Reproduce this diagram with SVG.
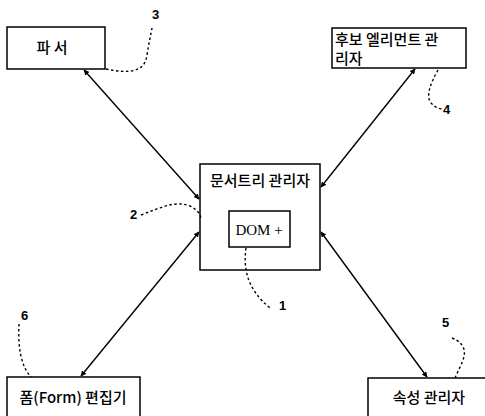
<svg xmlns="http://www.w3.org/2000/svg" width="485" height="416" viewBox="0 0 485 416">
<style>
.box{fill:#fff;stroke:#000;stroke-width:1.5}
.t{font-family:"Noto Sans CJK KR","Noto Sans",sans-serif;font-size:15px;font-weight:500;fill:#000}
.d{font-family:"Liberation Serif",serif;font-size:15px;fill:#000}
.n{font-family:"Liberation Sans",sans-serif;font-size:13px;font-weight:bold;fill:#000}
.c{fill:none;stroke:#000;stroke-width:1.4}
.dash{fill:none;stroke:#000;stroke-width:1.4;stroke-dasharray:2.5 2.5}
</style>
<defs>
<marker id="ah" viewBox="0 0 10 10" refX="9" refY="5" markerWidth="4" markerHeight="4" orient="auto-start-reverse">
<path d="M0,0 L10,5 L0,10 z" fill="#000"/>
</marker>
</defs>
<rect width="485" height="416" fill="#fff"/>
<g id="parser">
<rect class="box" x="7" y="27" width="98" height="42"/>
<text class="t" x="52" y="53" text-anchor="middle">파 서</text>
</g>
<g id="candidate">
<rect class="box" x="332" y="28" width="134" height="40"/>
<text class="t" x="335" y="45">후보 엘리먼트 관</text>
<text class="t" x="335" y="64">리자</text>
</g>
<g id="doctree">
<rect class="box" x="200" y="164" width="120" height="106"/>
<text class="t" x="260" y="186" text-anchor="middle">문서트리 관리자</text>
<rect class="box" x="229" y="211" width="61" height="36"/>
<text class="d" x="259" y="235" text-anchor="middle">DOM +</text>
</g>
<g id="form">
<rect class="box" x="7" y="377" width="133" height="45"/>
<text class="t" x="73" y="403" text-anchor="middle">폼(Form) 편집기</text>
</g>
<g id="attr">
<rect class="box" x="368" y="378" width="125" height="45"/>
<text class="t" x="429" y="403" text-anchor="middle">속성 관리자</text>
</g>
<g id="connectors">
<line class="c" x1="84" y1="70" x2="199" y2="199" marker-start="url(#ah)" marker-end="url(#ah)"/>
<line class="c" x1="415" y1="69" x2="321" y2="187" marker-start="url(#ah)" marker-end="url(#ah)"/>
<line class="c" x1="81" y1="376" x2="199" y2="232" marker-start="url(#ah)" marker-end="url(#ah)"/>
<line class="c" x1="321" y1="232" x2="427" y2="377" marker-start="url(#ah)" marker-end="url(#ah)"/>
<path class="dash" d="M106,69 C130,74 145,72 147,55 C149,42 151,34 152,28"/>
<path class="dash" d="M438,70 C430,84 425,98 432,104 C436,108 440,109 443,109"/>
<path class="dash" d="M141,215 C160,208 175,200 190,206 C198,210 200,214 201,218"/>
<path class="dash" d="M246,248 C243,270 248,290 270,308"/>
<path class="dash" d="M19,324 C18,345 20,365 31,377"/>
<path class="dash" d="M452,338 C465,343 466,352 463,360 C460,368 457,373 455,378"/>
</g>
<g id="labels">
<text class="n" x="152" y="19">3</text>
<text class="n" x="443" y="114">4</text>
<text class="n" x="130" y="219">2</text>
<text class="n" x="279" y="310">1</text>
<text class="n" x="21" y="320">6</text>
<text class="n" x="442" y="327">5</text>
</g>
</svg>
